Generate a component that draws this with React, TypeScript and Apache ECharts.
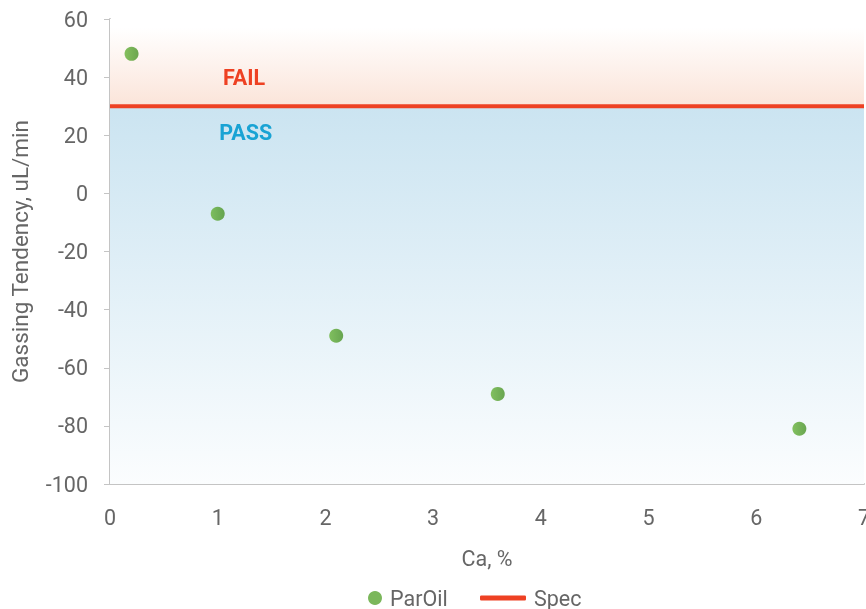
import React, { useEffect, useRef } from "react";
import * as echarts from "echarts";

const caPercent = [0.2, 1.0, 2.1, 3.6, 6.4];
const gassing = [48, -7, -49, -69, -81];
const specLimit = 30;
const xRange = [0, 7];
const yRange = [-100, 60];

export default function App() {
  const ref = useRef<HTMLDivElement>(null);
  useEffect(() => {
    if (!ref.current) return;
    const chart = echarts.init(ref.current, undefined, { renderer: "svg" });
    const font = "Roboto";
    const fs = 21.5;
    chart.setOption({
      animation: false,
      textStyle: { fontFamily: font },
      grid: { left: 110, right: 2, top: 19, bottom: 125, outerBoundsMode: "none", containLabel: false },
      xAxis: {
        type: "value",
        min: xRange[0],
        max: xRange[1],
        interval: 1,
        name: "Ca, %",
        nameLocation: "middle",
        nameGap: 63,
        nameTextStyle: { color: "#666", fontSize: fs, fontFamily: font },
        axisLine: { show: true, onZero: false, lineStyle: { color: "#c4c4c4", width: 2 } },
        axisTick: { show: false },
        axisLabel: { color: "#666", fontSize: fs, margin: 22, fontFamily: font },
        splitLine: { show: false },
      },
      yAxis: {
        type: "value",
        min: yRange[0],
        max: yRange[1],
        interval: 20,
        name: "Gassing Tendency, uL/min",
        nameLocation: "middle",
        nameGap: 79,
        nameTextStyle: { color: "#666", fontSize: 22.5, fontFamily: font },
        axisLine: { show: true, lineStyle: { color: "#c4c4c4", width: 2 } },
        axisTick: { show: true, length: 6, lineStyle: { color: "#c4c4c4", width: 1 } },
        axisLabel: { color: "#666", fontSize: fs, margin: 22, fontFamily: font },
        splitLine: { show: false },
      },
      legend: [
        {
          left: 368,
          top: 587,
          padding: 0,
          icon: "circle",
          itemWidth: 14,
          itemHeight: 14,
          textStyle: { color: "#666", fontSize: fs, fontFamily: font, padding: [0, 0, 0, 3] },
          data: [{ name: "ParOil", itemStyle: { color: "#5aa532" } }],
        },
        {
          left: 480,
          top: 587,
          padding: 0,
          icon: "roundRect",
          itemWidth: 46,
          itemHeight: 5,
          textStyle: { color: "#666", fontSize: fs, fontFamily: font, padding: [0, 0, 0, 3] },
          data: [{ name: "Spec", itemStyle: { color: "#ee4123" } }],
        },
      ],
      series: [
        {
          name: "ParOil",
          type: "scatter",
          symbolSize: 14,
          z: 5,
          itemStyle: {
            color: new echarts.graphic.LinearGradient(0, 0, 1, 0, [
              { offset: 0, color: "#66b238" },
              { offset: 1, color: "#479126" },
            ]),
          },
          data: caPercent.map((x, i) => [x, gassing[i]]),
        },
        {
          name: "Spec",
          type: "line",
          symbol: "none",
          z: 4,
          lineStyle: { color: "#ee4123", width: 4 },
          itemStyle: { color: "#ee4123" },
          data: [
            [xRange[0], specLimit],
            [xRange[1], specLimit],
          ],
          markArea: {
            silent: true,
            data: [
              [
                {
                  yAxis: specLimit,
                  itemStyle: {
                    color: new echarts.graphic.LinearGradient(0, 0, 0, 1, [
                      { offset: 0, color: "#ffffff" },
                      { offset: 0.1, color: "#ffffff" },
                      { offset: 1, color: "#fbe4d9" },
                    ]),
                  },
                },
                { yAxis: yRange[1] },
              ],
              [
                {
                  yAxis: yRange[0],
                  itemStyle: {
                    color: new echarts.graphic.LinearGradient(0, 0, 0, 1, [
                      { offset: 0, color: "#cbe4f1" },
                      { offset: 1, color: "#fbfdfe" },
                    ]),
                  },
                },
                { yAxis: specLimit },
              ],
            ],
          },
          markPoint: {
            silent: true,
            symbol: "circle",
            symbolSize: 0,
            data: [
              {
                coord: [1.245, 39.7],
                label: {
                  show: true,
                  formatter: "FAIL",
                  position: "inside",
                  color: "#ee4123",
                  fontSize: 21.5,
                  fontWeight: "bold",
                  fontFamily: font,
                },
              },
              {
                coord: [1.26, 20.8],
                label: {
                  show: true,
                  formatter: "PASS",
                  position: "inside",
                  color: "#19a3d4",
                  fontSize: 21.5,
                  fontWeight: "bold",
                  fontFamily: font,
                },
              },
            ],
          },
        },
      ],
    });
    return () => chart.dispose();
  }, []);
  return <div ref={ref} style={{ width: 866, height: 609, position: "fixed", left: 0, top: 0 }} />;
}
